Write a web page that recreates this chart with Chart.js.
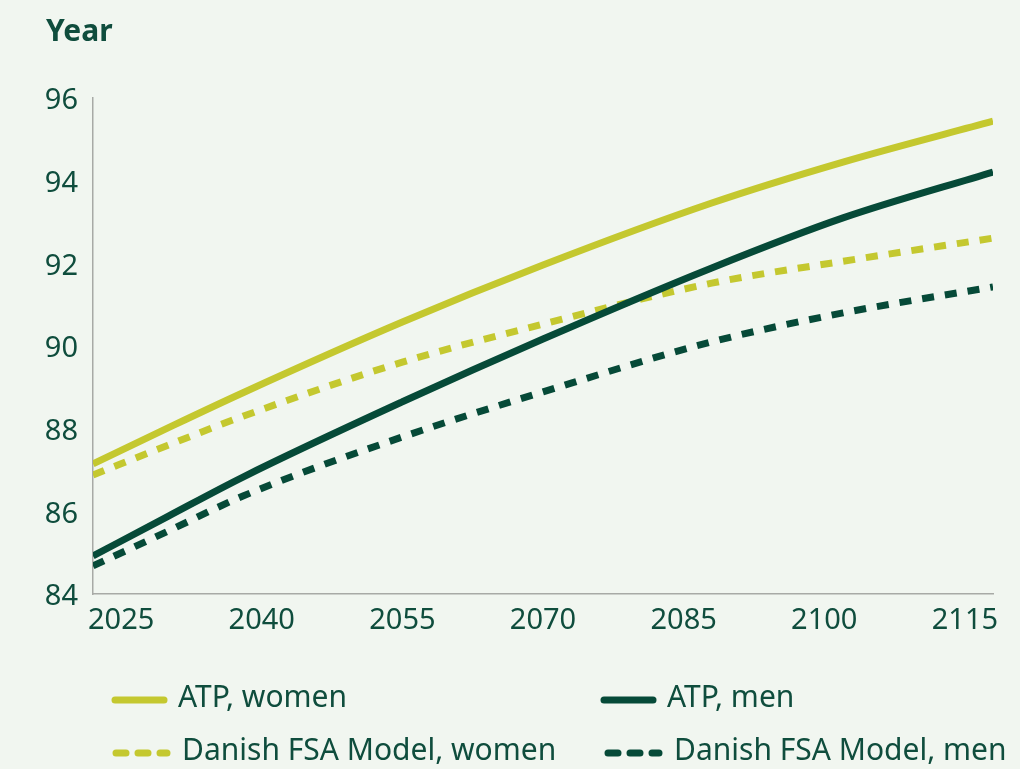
<!DOCTYPE html>
<html>
<head>
<meta charset="utf-8">
<script src="https://cdn.jsdelivr.net/npm/chart.js@4"></script>
<style>
    html, body { margin: 0; padding: 0; background: #f1f6f0; }
    #wrap { width: 1020px; height: 769px; position: relative; }
</style>
</head>
<body>
<div id="wrap"><canvas id="lifeChart"></canvas></div>
<script>
// values
const years = [2022, 2030, 2038, 2055, 2070, 2088, 2102, 2118];
const atpWomen = [87.15, 88.02, 88.87, 90.58, 91.96, 93.46, 94.45, 95.44];
const atpMen = [84.92, 85.88, 86.83, 88.65, 90.17, 91.89, 93.1, 94.21];
const fsaWomen = [86.88, 87.6, 88.3, 89.61, 90.53, 91.52, 92.05, 92.61];
const fsaMen = [84.68, 85.52, 86.37, 87.8, 88.89, 90.1, 90.8, 91.43];
const xTicks = [2025, 2040, 2055, 2070, 2085, 2100, 2115];
const yTicks = [84, 86, 88, 90, 92, 94, 96];

const lightGreen = "#c4c82f";
const darkGreen = "#064a38";
const textColor = "#0f4d3d";
const fontFamily = "'Noto Sans', 'Liberation Sans', Arial, sans-serif";

function points(vals) {
    return years.map((y, i) => ({ x: y, y: vals[i] }));
}

function makeSet(label, vals, color, dashed) {
    return {
        label: label,
        data: points(vals),
        borderColor: color,
        backgroundColor: color,
        borderWidth: 7,
        borderDash: dashed ? [12, 11] : [],
        pointRadius: 0,
        cubicInterpolationMode: "monotone",
        fill: false
    };
}

// custom 2x2 legend plus the "Year" heading
const extras = {
    id: "extras",
    afterDraw(chart) {
        const ctx = chart.ctx;
        ctx.save();
        ctx.fillStyle = textColor;
        ctx.font = "bold 30px " + fontFamily;
        ctx.textBaseline = "middle";
        ctx.textAlign = "left";
        ctx.fillText("Year", 46, 32);

        const cols = [[112, 601], [113, 605]];
        const rows = [700, 753];
        ctx.font = "30px " + fontFamily;
        chart.data.datasets.forEach((ds, i) => {
            const r = Math.floor(i / 2), c = i % 2;
            const x = cols[r][c], y = rows[r];
            ctx.beginPath();
            ctx.strokeStyle = ds.borderColor;
            ctx.lineWidth = 7;
            ctx.lineCap = "round";
            if (ds.borderDash.length) {
                ctx.setLineDash([10, 12]);
                ctx.moveTo(x + 3, y);
                ctx.lineTo(x + 54, y);
            } else {
                ctx.setLineDash([]);
                ctx.moveTo(x + 3, y);
                ctx.lineTo(x + 52, y);
            }
            ctx.stroke();
            ctx.setLineDash([]);
            ctx.fillStyle = textColor;
            ctx.fillText(ds.label, x + (ds.borderDash.length ? 69 : 66), y - 2);
        });
        ctx.restore();
    }
};

new Chart(document.getElementById("lifeChart"), {
    type: "line",
    data: {
        datasets: [
            makeSet("ATP, women", atpWomen, lightGreen, false),
            makeSet("ATP, men", atpMen, darkGreen, false),
            makeSet("Danish FSA Model, women", fsaWomen, lightGreen, true),
            makeSet("Danish FSA Model, men", fsaMen, darkGreen, true)
        ]
    },
    options: {
        responsive: true,
        maintainAspectRatio: false,
        animation: false,
        layout: { padding: { top: 98, left: 46, right: 27, bottom: 135 } },
        plugins: {
            legend: { display: false },
            tooltip: { enabled: false }
        },
        scales: {
            x: {
                type: "linear",
                min: 2022,
                max: 2118,
                afterBuildTicks: axis => { axis.ticks = xTicks.map(v => ({ value: v })); },
                afterFit: axis => { axis.height = 40; },
                grid: { drawOnChartArea: false, drawTicks: false },
                border: { color: "#a8aaa6", width: 1.5 },
                ticks: {
                    color: textColor,
                    font: { family: fontFamily, size: 29 },
                    padding: 9,
                    maxRotation: 0,
                    autoSkip: false,
                    callback: v => String(v)
                }
            },
            y: {
                min: 84,
                max: 96,
                afterBuildTicks: axis => { axis.ticks = yTicks.map(v => ({ value: v })); },
                afterFit: axis => { axis.width = 47; },
                grid: { drawOnChartArea: false, drawTicks: false },
                border: { color: "#a8aaa6", width: 1.5 },
                ticks: {
                    color: textColor,
                    font: { family: fontFamily, size: 29 },
                    padding: 15,
                    labelOffset: 3
                }
            }
        }
    },
    plugins: [extras]
});
</script>
</body>
</html>
